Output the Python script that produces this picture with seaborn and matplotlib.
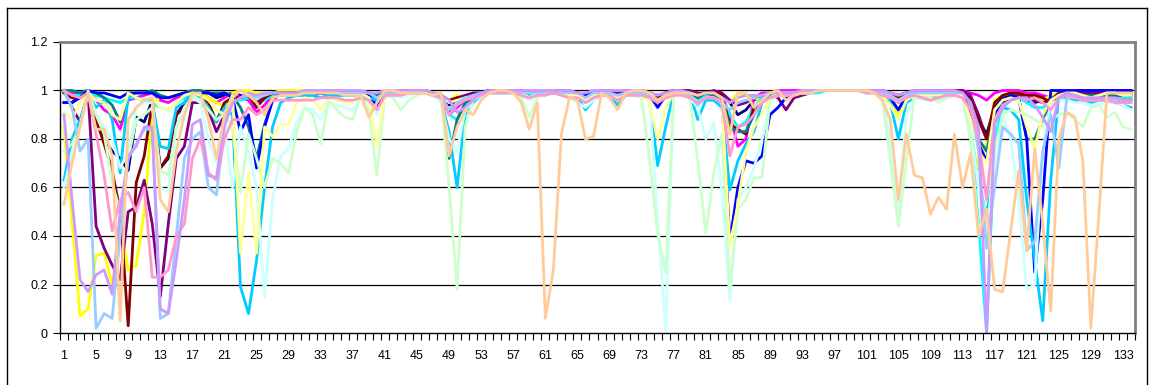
import matplotlib
matplotlib.use("Agg")
import matplotlib.pyplot as plt
import seaborn as sns
import pandas as pd
import numpy as np
from matplotlib.ticker import FixedLocator

plt.rcParams['font.family'] = ['Liberation Sans', 'DejaVu Sans']

categories = list(range(1, 135))

navy = [.95,.95,.98,1.0,.87,.8,.75,.72,.67,.89,
        .87,.96,.68,.72,.9,.95,.99,.99,.99,.97,
        .98,.99,.98,.97,.95,.97,.99,.99,.99,.99,
        .99,.99,.99,.99,.99,.99,.99,.99,.99,.97,
        .99,.99,.99,.99,1.0,1.0,.99,.98,.94,.96,
        .97,.98,.99,.99,1.0,1.0,1.0,.99,.99,.99,
        .99,.99,.99,.99,.99,.98,.99,.99,.99,.98,
        .99,.99,.99,.99,.96,.98,.99,.99,.99,.98,
        .99,.99,.98,.95,.9,.92,.96,.98,.99,.99,
        .99,.99,.99,1.0,1.0,1.0,1.0,1.0,1.0,1.0,
        1.0,1.0,.99,.98,.96,.98,.99,.99,.99,.99,
        .99,.99,.99,.97,.88,.82,.93,.97,.98,.98,
        .96,.95,.96,.97,.99,.99,.99,.99,.99,.99,
        .99,.99,.99,.99]

magenta = [1.0,.99,.99,1.0,.96,.92,.9,.84,.96,.97,
           .98,.99,.96,.95,.97,.98,.99,.99,.97,.95,
           .97,.99,.97,.96,.91,.94,.98,.99,.99,.99,
           .99,.99,.99,1.0,1.0,.99,.99,.99,.99,.97,
           .99,1.0,1.0,1.0,1.0,1.0,.99,.98,.9,.93,
           .96,.98,.99,1.0,1.0,1.0,1.0,1.0,.99,.99,
           1.0,1.0,1.0,1.0,.99,.98,.99,1.0,1.0,.99,
           1.0,1.0,1.0,.99,.97,.99,1.0,1.0,.99,.97,
           .99,.99,.98,.9,.77,.8,.97,.99,.99,1.0,
           1.0,1.0,1.0,1.0,1.0,1.0,1.0,1.0,1.0,1.0,
           1.0,1.0,1.0,.99,.98,.99,1.0,1.0,1.0,1.0,
           1.0,1.0,1.0,.99,.98,.96,.99,1.0,1.0,1.0,
           .99,.99,.98,.97,.99,1.0,1.0,1.0,1.0,1.0,
           1.0,1.0,1.0,1.0]

yellow = [.85,.46,.07,.1,.32,.33,.2,.45,.26,.28,
          .5,.92,.98,.97,.98,.99,1.0,.99,.97,.95,
          .94,.99,1.0,1.0,.99,.99,.99,1.0,1.0,1.0,
          1.0,1.0,.99,1.0,1.0,.99,.99,1.0,.99,.96,
          1.0,1.0,1.0,.99,1.0,1.0,.99,.98,.96,.98,
          .97,.96,.99,1.0,1.0,1.0,1.0,.99,.98,.99,
          1.0,1.0,1.0,.99,.99,.97,.98,.99,.99,.98,
          .99,1.0,.99,.98,.94,.97,.99,1.0,.99,.96,
          .98,.98,.97,.95,.99,.98,.97,.96,.98,.99,
          .99,.99,1.0,1.0,1.0,1.0,1.0,1.0,1.0,1.0,
          1.0,1.0,.99,.96,.9,.97,.99,.99,.99,.99,
          .99,.99,.98,.82,.67,.78,.96,.98,.99,.99,
          .98,.97,.96,.98,.99,1.0,1.0,.99,.98,.98,
          .99,.99,.99,.99]

cyan = [.99,.98,.98,.99,.98,.97,.96,.95,.97,.97,
        .96,.95,.93,.92,.95,.97,.99,.98,.94,.88,
        .93,.97,.96,.97,.95,.96,.98,.98,.98,.98,
        .98,.98,.97,.98,.98,.98,.98,.98,.98,.96,
        .98,.99,.99,.99,.99,.99,.98,.97,.9,.88,
        .94,.97,.98,.99,.99,.99,.99,.99,.98,.98,
        .99,.99,.99,.98,.97,.95,.97,.98,.98,.96,
        .98,.99,.99,.98,.95,.97,.98,.99,.98,.96,
        .98,.98,.97,.9,.85,.87,.93,.97,.98,.98,
        .98,.99,.99,.99,.99,1.0,1.0,1.0,1.0,1.0,
        .99,.99,.98,.96,.92,.97,.98,.98,.97,.97,
        .98,.98,.99,.81,.45,.0,.8,.93,.96,.97,
        .95,.93,.93,.95,.97,.97,.97,.96,.95,.96,
        .97,.97,.97,.97]

purple = [1.0,.93,.87,.99,.44,.35,.28,.22,.5,.52,
          .63,.45,.15,.45,.72,.77,.95,.95,.92,.83,
          .9,.96,.97,.98,.95,.97,.99,.99,.99,.99,
          .99,.99,.99,.99,.99,.99,.99,.99,.99,.98,
          .99,.99,1.0,1.0,1.0,1.0,.99,.98,.96,.97,
          .98,.99,.99,1.0,1.0,1.0,1.0,1.0,.99,.99,
          .99,1.0,1.0,.99,.99,.98,.99,.99,.99,.99,
          1.0,1.0,1.0,.99,.98,.99,1.0,1.0,1.0,.99,
          .99,1.0,.99,.96,.94,.95,.97,.98,.98,.97,
          .92,.97,.98,.99,1.0,1.0,1.0,1.0,1.0,1.0,
          1.0,1.0,1.0,.99,.98,.99,.99,.99,.99,.99,
          1.0,1.0,1.0,.98,.9,.8,.9,.95,.97,.98,
          .97,.96,.95,.96,.99,.99,.99,.99,.99,.99,
          .98,.98,.98,.98]

maroon = [.99,.97,.97,1.0,.88,.78,.67,.5,.03,.62,
          .73,.95,.68,.73,.9,.93,.97,.98,.95,.87,
          .95,.97,.97,.98,.93,.97,.99,.99,.99,.99,
          .99,.99,.99,.99,.99,.99,.99,.99,.99,.97,
          .99,.99,.99,1.0,1.0,1.0,.99,.98,.95,.97,
          .96,.97,.99,1.0,1.0,1.0,1.0,.99,.99,.99,
          .99,1.0,1.0,.99,.99,.98,.99,.99,.99,.98,
          .99,1.0,.99,.99,.97,.99,1.0,1.0,.99,.98,
          .99,.99,.98,.86,.84,.82,.93,.95,.98,.99,
          .99,.99,.99,1.0,1.0,1.0,1.0,1.0,1.0,1.0,
          1.0,1.0,.99,.98,.97,.98,.99,.99,.99,.99,
          1.0,1.0,.99,.96,.88,.8,.95,.98,.99,.99,
          .98,.98,.97,.95,.98,.98,.97,.97,.97,.97,
          .97,.96,.96,.96]

teal = [1.0,1.0,.99,1.0,.99,.97,.94,.87,.98,.99,
        .99,1.0,.98,.97,.98,.99,1.0,1.0,.99,.99,
        .99,.98,.93,.85,.72,.86,.96,.99,.99,.99,
        .99,.99,.99,.99,.99,.99,.99,.99,.99,.98,
        .99,.99,.99,1.0,1.0,1.0,.99,.97,.72,.88,
        .95,.97,.99,.99,1.0,1.0,1.0,.99,.99,.99,
        .99,.99,.99,.99,.99,.97,.99,.99,.99,.98,
        .99,.99,.99,.98,.96,.98,.99,.99,.99,.97,
        .99,.98,.97,.85,.83,.83,.9,.96,.98,.99,
        .99,.99,.99,1.0,1.0,1.0,1.0,1.0,1.0,1.0,
        1.0,1.0,.99,.98,.95,.98,.99,.98,.97,.98,
        .99,.99,.98,.92,.8,.75,.9,.96,.97,.97,
        .8,.8,.88,.96,.98,.98,.98,.98,.98,.98,
        .98,.98,.98,.98]

blue = [.95,.95,.97,1.0,.99,.99,.98,.97,.99,.99,
        .99,.99,.97,.97,.98,.99,.99,.99,.99,.98,
        .99,.97,.83,.9,.68,.85,.96,.99,.99,.99,
        .99,.99,.99,.99,.99,.99,.99,.99,.98,.94,
        .99,.99,.99,1.0,1.0,1.0,.99,.97,.91,.94,
        .96,.98,.99,1.0,1.0,1.0,1.0,.99,.99,.99,
        .99,1.0,1.0,.99,.99,.98,.99,.99,.99,.98,
        .99,1.0,.99,.98,.93,.98,1.0,1.0,.99,.98,
        .99,.99,.97,.38,.6,.71,.7,.73,.9,.93,
        .97,.99,.99,1.0,1.0,1.0,1.0,1.0,1.0,1.0,
        1.0,1.0,.99,.97,.92,.98,.99,.99,.99,.99,
        .99,.99,.98,.9,.78,.71,.9,.95,.98,.97,
        .8,.25,.55,1.0,1.0,1.0,1.0,1.0,1.0,1.0,
        1.0,1.0,1.0,1.0]

sky_blue = [.63,.8,.88,.98,.93,.96,.88,.66,.98,.97,
            .96,.95,.77,.76,.93,.95,.99,.97,.93,.87,
            .93,.9,.19,.08,.3,.6,.85,.95,.97,.98,
            .98,.98,.97,.98,.98,.98,.98,.98,.97,.96,
            .98,.99,.99,.99,.99,.99,.98,.96,.83,.6,
            .9,.95,.98,.99,.99,.99,.99,.99,.98,.98,
            .99,.99,.99,.98,.97,.92,.96,.98,.98,.94,
            .98,.99,.99,.96,.69,.85,.99,.99,.99,.88,
            .96,.96,.93,.59,.71,.78,.83,.95,.99,.99,
            .99,.99,.99,.99,1.0,1.0,1.0,1.0,1.0,1.0,
            .99,.99,.98,.95,.8,.95,.97,.97,.96,.97,
            .97,.98,.98,.85,.6,.5,.88,.93,.92,.88,
            .55,.3,.05,.63,.98,.97,.96,.95,.95,.96,
            .96,.95,.94,.93]

light_turquoise = [.6,.75,.85,.99,.9,.85,.8,.68,.75,.93,
                   .95,.95,.6,.58,.85,.93,.97,.95,.8,.7,
                   .85,.6,.85,.75,.6,.15,.55,.73,.76,.87,
                   .93,.92,.88,.95,.94,.93,.92,.97,.95,.9,
                   .97,.98,.97,.98,.99,.99,.98,.95,.8,.75,
                   .92,.96,.98,.99,.99,.99,.99,.98,.96,.97,
                   .99,.99,.98,.97,.95,.93,.96,.98,.98,.96,
                   .98,.98,.97,.96,.47,.01,.98,.99,.97,.93,
                   .8,.87,.58,.13,.55,.6,.68,.8,.96,.98,
                   .98,.99,.99,.99,1.0,1.0,1.0,1.0,1.0,1.0,
                   .99,.99,.98,.8,.5,.9,.97,.97,.97,.96,
                   .97,.98,.97,.85,.6,.4,.7,.9,.8,.55,
                   .18,.2,.75,.95,.96,.96,.95,.95,.94,.94,
                   .95,.95,.94,.92]

light_green = [.75,.78,.85,1.0,.9,.82,.62,.5,.72,.88,
               .9,.93,.67,.65,.85,.9,.98,.96,.92,.88,
               .9,.85,.58,.82,.72,.6,.72,.7,.66,.83,
               .93,.9,.78,.96,.92,.89,.88,.98,.92,.65,
               .98,.97,.92,.96,.98,.99,.99,.97,.6,.18,
               .85,.96,.98,.99,.99,.99,.99,.97,.89,.97,
               .99,.99,.99,.98,.97,.96,.97,.98,.98,.97,
               .98,.98,.97,.71,.41,.25,.99,.99,.97,.71,
               .41,.66,.82,.18,.51,.55,.64,.64,.96,.98,
               .98,.99,.99,.99,1.0,1.0,1.0,1.0,1.0,1.0,
               .99,.99,.97,.71,.44,.71,.98,.96,.97,.95,
               .97,.98,.97,.8,.41,.55,.75,.9,.92,.91,
               .9,.88,.86,.88,.9,.91,.88,.85,.93,.94,
               .89,.91,.85,.84]

light_yellow = [.91,.88,.95,.99,.96,.95,.9,.88,.99,.97,
                .96,.97,.93,.92,.95,.98,.99,.98,.96,.92,
                .9,.98,.33,.66,.33,.85,.81,.86,.86,.95,
                .97,.96,.92,.97,.96,.95,.95,.99,.97,.77,
                .99,.99,.98,.99,1.0,1.0,.99,.98,.95,.96,
                .97,.97,.99,.99,1.0,1.0,1.0,.99,.97,.99,
                .99,1.0,.99,.98,.98,.96,.98,.99,.99,.97,
                .99,.99,.98,.95,.8,.93,.99,.99,.98,.95,
                .97,.97,.95,.36,.53,.75,.85,.9,.97,.99,
                .99,.99,.99,1.0,1.0,1.0,1.0,1.0,1.0,1.0,
                1.0,.99,.98,.94,.88,.96,.98,.98,.98,.98,
                .99,.99,.98,.88,.75,.7,.92,.96,.97,.96,
                .85,.76,.9,.96,.98,.99,.99,.98,.97,.98,
                .99,.99,.98,.98]

pale_blue = [1.0,.93,.75,.8,.02,.08,.06,.4,.72,.78,
             .84,.84,.06,.08,.4,.72,.8,.83,.6,.57,
             .85,.95,.97,.98,.97,.98,.99,.99,.99,.99,
             .99,.99,.99,.99,.99,.99,.99,.99,.99,.97,
             .99,.99,.99,1.0,1.0,1.0,.99,.98,.92,.95,
             .97,.98,.99,.99,1.0,1.0,1.0,.99,.99,.99,
             .99,.99,.99,.99,.99,.97,.99,.99,.99,.98,
             .99,.99,.99,.98,.96,.98,.99,.99,.98,.94,
             .97,.97,.95,.92,.95,.96,.97,.98,.99,.99,
             .99,.99,.99,1.0,1.0,1.0,1.0,1.0,1.0,1.0,
             1.0,1.0,.99,.98,.96,.98,.99,.99,.99,.99,
             .99,.99,.99,.95,.75,.35,.6,.85,.82,.78,
             .34,.38,.75,.9,.68,.97,.97,.96,.96,.96,
             .96,.96,.96,.96]

rose = [1.0,.98,.97,.99,.82,.65,.42,.55,.58,.5,
        .6,.23,.23,.26,.4,.45,.72,.8,.66,.63,
        .8,.88,.88,.93,.9,.92,.96,.96,.96,.96,
        .96,.96,.97,.97,.97,.96,.96,.97,.96,.92,
        .98,.98,.98,.99,.99,.99,.98,.97,.9,.94,
        .96,.97,.98,.99,.99,.99,.99,.98,.97,.98,
        .98,.99,.98,.97,.97,.95,.97,.98,.98,.96,
        .98,.98,.98,.97,.95,.97,.98,.98,.97,.95,
        .97,.97,.95,.73,.85,.86,.9,.95,.97,.98,
        .98,.98,.99,.99,1.0,1.0,1.0,1.0,1.0,1.0,
        .99,.99,.98,.97,.95,.97,.98,.97,.96,.97,
        .98,.98,.97,.92,.8,.55,.88,.94,.96,.97,
        .96,.97,.95,.92,.97,.98,.97,.96,.96,.96,
        .96,.95,.95,.95]

lavender = [.9,.55,.22,.17,.24,.26,.16,.5,.73,.77,
            .85,.85,.1,.08,.3,.55,.86,.88,.65,.64,
            .86,.95,.97,.99,.98,.99,.99,.99,.99,.99,
            1.0,1.0,1.0,1.0,1.0,1.0,1.0,1.0,.99,.99,
            1.0,1.0,1.0,1.0,1.0,1.0,.99,.98,.96,.91,
            .93,.96,.99,1.0,1.0,1.0,1.0,1.0,1.0,1.0,
            1.0,1.0,1.0,1.0,.99,.99,1.0,1.0,1.0,1.0,
            1.0,1.0,1.0,.99,.98,.99,1.0,1.0,.99,.98,
            .99,.99,.97,.95,.97,.98,.98,.98,.99,.99,
            .99,.99,1.0,1.0,1.0,1.0,1.0,1.0,1.0,1.0,
            1.0,1.0,1.0,.99,.98,.99,1.0,1.0,1.0,1.0,
            1.0,1.0,.99,.95,.85,.0,.86,.93,.96,.97,
            .97,.94,.89,.83,.97,.99,.98,.97,.97,.97,
            .97,.97,.96,.96]

tan = [.53,.7,.85,.99,.84,.84,.73,.05,.88,.93,
       .96,.97,.55,.5,.75,.9,.99,.99,.88,.72,
       .9,.97,1.0,.98,.95,.9,.97,.98,.98,.98,
       .99,.99,.99,.99,.99,.98,.98,.98,.89,.95,
       1.0,1.0,.99,.99,.99,.99,.98,.99,.73,.85,
       .92,.9,.96,.99,1.0,1.0,.99,.95,.84,.95,
       .06,.26,.82,.97,.96,.8,.81,.99,.97,.92,
       .99,1.0,1.0,.99,.96,.98,.99,.99,.99,.98,
       .99,.99,.97,.82,.99,.99,.93,.96,.99,1.0,
       .96,.98,.99,.99,1.0,1.0,1.0,1.0,1.0,1.0,
       1.0,.99,.96,.88,.55,.82,.65,.64,.49,.56,
       .51,.82,.6,.74,.4,.51,.18,.17,.42,.67,
       .34,.76,.45,.09,.8,.91,.89,.71,.02,.49,
       .99,.99,.99,.99]

series_names = ["S1", "S2", "S3", "S4", "S5", "S6", "S7", "S8",
                "S9", "S10", "S11", "S12", "S13", "S14", "S15", "S16"]
series_values = [navy, magenta, yellow, cyan, purple, maroon, teal, blue,
                 sky_blue, light_turquoise, light_green, light_yellow,
                 pale_blue, rose, lavender, tan]
colors = ["#000080", "#FF00FF", "#FFFF00", "#00FFFF", "#800080", "#800000",
          "#008080", "#0000FF", "#00CCFF", "#CCFFFF", "#CCFFCC", "#FFFF99",
          "#99CCFF", "#FF99CC", "#CC99FF", "#FFCC99"]
y_ticks = [0, 0.2, 0.4, 0.6, 0.8, 1.0, 1.2]
y_tick_labels = ["0", "0.2", "0.4", "0.6", "0.8", "1", "1.2"]
x_label_positions = list(range(1, 135, 4))

frames = []
for name, vals in zip(series_names, series_values):
    frames.append(pd.DataFrame({"x": categories, "y": vals, "series": name}))
df = pd.concat(frames, ignore_index=True)

fig = plt.figure(figsize=(11.54, 3.85), dpi=100)
ax = fig.add_axes([60/1154, 1 - 333/385, (1135 - 60)/1154, (333 - 42)/385])

for yv in [0.2, 0.4, 0.6, 0.8, 1.0]:
    ax.axhline(yv, color="black", lw=0.9, zorder=1)

sns.lineplot(data=df, x="x", y="y", hue="series", hue_order=series_names,
             palette=colors, estimator=None, sort=False, linewidth=2.0,
             legend=False, ax=ax, zorder=2)

ax.set_xlim(0.5, 134.5)
ax.set_ylim(0, 1.2)
ax.set_xlabel("")
ax.set_ylabel("")

ax.set_yticks(y_ticks)
ax.set_yticklabels(y_tick_labels)
ax.set_xticks(x_label_positions)
ax.set_xticklabels([str(v) for v in x_label_positions])
ax.xaxis.set_minor_locator(FixedLocator(np.arange(0.5, 135, 1.0)))
ax.tick_params(axis="x", which="major", length=0, pad=12, labelsize=9)
ax.tick_params(axis="x", which="minor", length=5, width=0.8, direction="out", color="black")
ax.tick_params(axis="y", which="major", length=5, width=0.8, direction="out", pad=4, labelsize=9)

for side in ["left", "bottom"]:
    ax.spines[side].set_color("black")
    ax.spines[side].set_linewidth(1.0)
for side in ["top", "right"]:
    ax.spines[side].set_color("#808080")
    ax.spines[side].set_linewidth(2.0)

# outer chart frame
fig.add_artist(plt.Line2D([7/1154, 7/1154], [0, 1 - 8/385], transform=fig.transFigure, color="black", lw=1))
fig.add_artist(plt.Line2D([7/1154, 1147/1154], [1 - 8/385, 1 - 8/385], transform=fig.transFigure, color="black", lw=1))
fig.add_artist(plt.Line2D([1147/1154, 1147/1154], [0, 1 - 8/385], transform=fig.transFigure, color="black", lw=1))

fig.savefig("out.png", dpi=100)
